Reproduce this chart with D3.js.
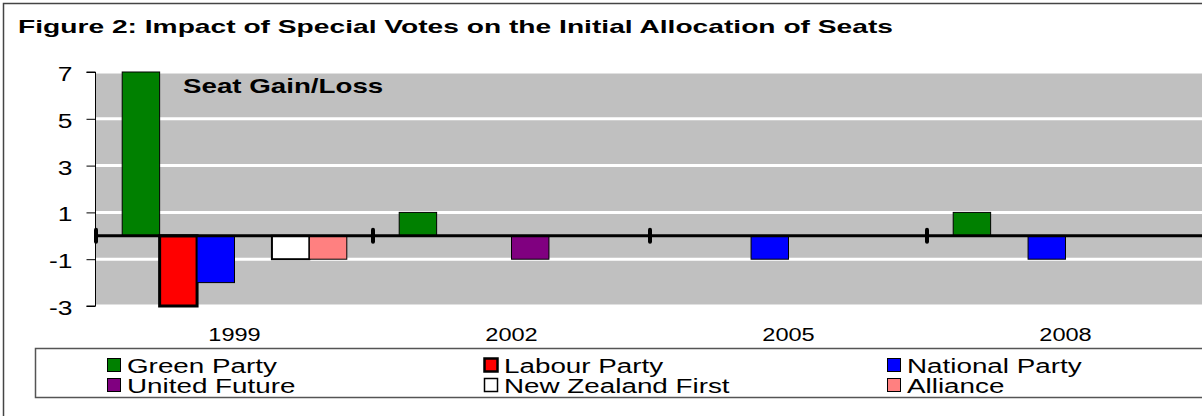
<!DOCTYPE html>
<html>
<head>
<meta charset="utf-8">
<script src="https://cdn.jsdelivr.net/npm/d3@7"></script>
<style>
  body { margin: 0; background: #fff; }
  text { font-family: Arial, "Liberation Sans", sans-serif; }
</style>
</head>
<body>
<script>
// Data
const years = ['1999', '2002', '2005', '2008'];
const parties = ['Green Party', 'Labour Party', 'National Party', 'United Future', 'New Zealand First', 'Alliance'];
const partyColors = ['#008000', '#ff0000', '#0000ff', '#800080', '#ffffff', '#ff8080'];
const partyStrokes = [1, 3, 1, 1, 2, 1];
const greenParty = [7, 1, 0, 1];
const labourParty = [-3, 0, 0, 0];
const nationalParty = [-2, 0, -1, -1];
const unitedFuture = [0, -1, 0, 0];
const nzFirst = [-1, 0, 0, 0];
const alliance = [-1, 0, 0, 0];
const yTicks = [7, 5, 3, 1, -1, -3];

const seriesValues = [greenParty, labourParty, nationalParty, unitedFuture, nzFirst, alliance];

let width = 1202, height = 416;
let margin = { top: 72, bottom: 110, left: 96, right: -2 };

// the chart image is stretched sideways, so the text is too
function stretch(sel, k) {
  sel.each(function() {
    let w = this.getComputedTextLength();
    d3.select(this).attr('textLength', w * k).attr('lengthAdjust', 'spacingAndGlyphs');
  });
}

let svg = d3.select('body')
  .append('svg')
  .attr('width', width)
  .attr('height', height);

// Outer frame
svg.append('rect')
  .attr('x', 3.5).attr('y', 3.5)
  .attr('width', width + 50).attr('height', height + 50)
  .attr('fill', 'none')
  .attr('stroke', '#444')
  .attr('stroke-width', 1.5);

// Title
svg.append('text')
  .attr('x', 18).attr('y', 33)
  .style('font-size', '19px')
  .style('font-weight', 'bold')
  .attr('textLength', 875)
  .attr('lengthAdjust', 'spacingAndGlyphs')
  .text('Figure 2: Impact of Special Votes on the Initial Allocation of Seats');

// Scales
let xScale = d3.scaleBand()
  .domain(years)
  .range([margin.left, width - margin.right])
  .padding(0);

let xInner = d3.scaleBand()
  .domain(parties)
  .range([0, xScale.bandwidth()])
  .paddingInner(0)
  .paddingOuter(0.7);

let yScale = d3.scaleLinear()
  .domain([-3, 7])
  .range([306, 72]);

// Plot background
svg.append('rect')
  .attr('x', margin.left)
  .attr('y', yScale(7))
  .attr('width', width - margin.right - margin.left)
  .attr('height', yScale(-3) - yScale(7))
  .attr('fill', '#c0c0c0');

// White gridlines
svg.selectAll('.grid')
  .data(yTicks)
  .enter()
  .append('line')
  .attr('class', 'grid')
  .attr('x1', margin.left).attr('x2', width)
  .attr('y1', d => yScale(d)).attr('y2', d => yScale(d))
  .attr('stroke', '#fff')
  .attr('stroke-width', 3);

// Y axis
let yAxis = svg.append('g')
  .attr('transform', `translate(${margin.left - 0.5}, 0)`)
  .call(d3.axisLeft(yScale).tickValues(yTicks).tickSize(9).tickPadding(14).tickFormat(d3.format('d')));

yAxis.select('.domain').attr('stroke', '#000').attr('d', `M-9,${yScale(7)}H0V${yScale(-3)}H-9`);
yAxis.selectAll('.tick text')
  .style('font-size', '20px')
  .attr('fill', '#000')
  .attr('dy', '0.42em')
  .text(d => d < 0 ? '-' + Math.abs(d) : d);
stretch(yAxis.selectAll('.tick text'), 1.32);

// Bars
let groups = svg.selectAll('.year')
  .data(years)
  .enter()
  .append('g')
  .attr('class', 'year')
  .attr('transform', d => `translate(${xScale(d)}, 0)`);

groups.selectAll('rect')
  .data((d, i) => parties.map((p, j) => ({ party: p, idx: j, value: seriesValues[j][i] })).filter(e => e.value !== 0))
  .enter()
  .append('rect')
  .attr('x', d => xInner(d.party))
  .attr('width', xInner.bandwidth())
  .attr('y', d => yScale(Math.max(0, d.value)))
  .attr('height', d => Math.abs(yScale(d.value) - yScale(0)))
  .attr('fill', d => partyColors[d.idx])
  .attr('stroke', '#000')
  .attr('stroke-width', d => partyStrokes[d.idx]);

// Zero line with category ticks
svg.append('line')
  .attr('x1', margin.left).attr('x2', width)
  .attr('y1', yScale(0)).attr('y2', yScale(0))
  .attr('stroke', '#000')
  .attr('stroke-width', 3);

svg.selectAll('.cat-tick')
  .data(years)
  .enter()
  .append('line')
  .attr('class', 'cat-tick')
  .attr('x1', d => xScale(d)).attr('x2', d => xScale(d))
  .attr('y1', yScale(0) - 6).attr('y2', yScale(0) + 6)
  .attr('stroke', '#000')
  .attr('stroke-width', 4)
  .attr('stroke-linecap', 'round');

// Year labels
let yearLabels = svg.selectAll('.year-label')
  .data(years)
  .enter()
  .append('text')
  .attr('class', 'year-label')
  .attr('x', d => xScale(d) + xScale.bandwidth() / 2)
  .attr('y', 341)
  .attr('text-anchor', 'middle')
  .style('font-size', '18px')
  .text(d => d);
stretch(yearLabels, 1.31);

// Inner label
let seatLabel = svg.append('text')
  .attr('x', 183).attr('y', 93)
  .style('font-size', '21px')
  .style('font-weight', 'bold')
  .text('Seat Gain/Loss');
stretch(seatLabel, 1.32);

// Legend
svg.append('rect')
  .attr('x', 35.5).attr('y', 348.5)
  .attr('width', 1200).attr('height', 49)
  .attr('fill', '#fff')
  .attr('stroke', '#555')
  .attr('stroke-width', 1.5);

const legendCols = [107, 484, 887];
let legendItem = svg.selectAll('.legend-item')
  .data(parties)
  .enter()
  .append('g')
  .attr('class', 'legend-item')
  .attr('transform', (d, i) => `translate(${legendCols[i % 3]}, ${358 + Math.floor(i / 3) * 20})`);

legendItem.append('rect')
  .attr('x', 0.5).attr('y', 0.5)
  .attr('width', 13).attr('height', 13)
  .attr('fill', (d, i) => partyColors[i])
  .attr('stroke', '#000')
  .attr('stroke-width', (d, i) => partyStrokes[i] === 1 ? 1 : partyStrokes[i] - 0.5);

let legendText = legendItem.append('text')
  .attr('x', 20).attr('y', 14.5)
  .style('font-size', '20px')
  .text(d => d);
stretch(legendText, 1.39);
</script>
</body>
</html>
